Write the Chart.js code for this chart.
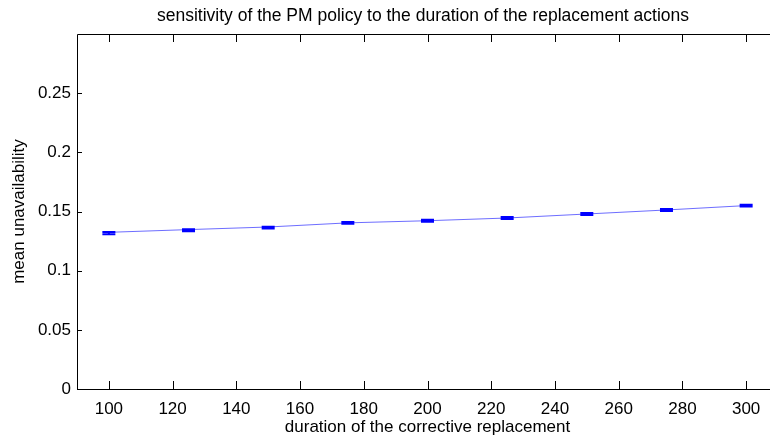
<!DOCTYPE html>
<html>
<head>
<meta charset="utf-8">
<script src="https://cdn.jsdelivr.net/npm/chart.js@4"></script>
<style>
  html, body { margin: 0; padding: 0; background: #fff; overflow: hidden; }
  canvas { display: block; }
</style>
</head>
<body>
<canvas id="chart" width="790" height="438"></canvas>
<script>
// sensitivity of PM policy chart

const durations = [100, 125, 150, 175, 200, 225, 250, 275, 300];
const unavailability = [0.1324, 0.1347, 0.1369, 0.1404, 0.1422, 0.1445, 0.1479, 0.1513, 0.1550];
const errHigh = [0.0003, 0.0003, 0.0003, 0.0008, 0.0008, 0.0008, 0.0008, 0.0008, 0.0008];
const errLow = [0.0016, 0.0014, 0.0013, 0.0008, 0.0008, 0.0008, 0.0008, 0.0008, 0.0008];
const xTicks = [100, 120, 140, 160, 180, 200, 220, 240, 260, 280, 300];
const yTicks = [0, 0.05, 0.1, 0.15, 0.2, 0.25];

const FONT = 'Liberation Sans, Arial, sans-serif';
const FONT_SIZE = 17;

// axes lines, inward ticks, error bars and title, MATLAB style
const matlabAxes = {
  id: 'matlabAxes',
  afterDatasetsDraw(chart) {
    const ctx = chart.ctx;
    const a = chart.chartArea;
    const xs = chart.scales.x, ys = chart.scales.y;

    // error bars
    ctx.save();
    ctx.strokeStyle = '#0000ff';
    ctx.lineWidth = 2;
    durations.forEach((d, i) => {
      const px = xs.getPixelForValue(d);
      const yHi = ys.getPixelForValue(unavailability[i] + errHigh[i]);
      const yLo = ys.getPixelForValue(unavailability[i] - errLow[i]);
      ctx.beginPath();
      ctx.moveTo(px, yHi); ctx.lineTo(px, yLo);
      ctx.moveTo(px - 6.5, yHi); ctx.lineTo(px + 6.5, yHi);
      ctx.moveTo(px - 6.5, yLo); ctx.lineTo(px + 6.5, yLo);
      ctx.stroke();
    });
    ctx.restore();

    ctx.save();
    ctx.strokeStyle = '#000';
    ctx.lineWidth = 1;
    ctx.beginPath();
    const l = a.left + 0.5, t = a.top + 0.5, b = a.bottom + 0.5;
    ctx.moveTo(a.right, t); ctx.lineTo(l, t); ctx.lineTo(l, b); ctx.lineTo(a.right, b);
    xTicks.forEach(v => {
      const px = Math.round(xs.getPixelForValue(v)) + 0.5;
      ctx.moveTo(px, a.bottom); ctx.lineTo(px, a.bottom - 8);
      ctx.moveTo(px, a.top); ctx.lineTo(px, a.top + 8);
    });
    yTicks.forEach(v => {
      const py = Math.round(ys.getPixelForValue(v)) + 0.5;
      ctx.moveTo(a.left, py); ctx.lineTo(a.left + 5, py);
      ctx.moveTo(a.right, py); ctx.lineTo(a.right - 5, py);
    });
    ctx.stroke();

    ctx.fillStyle = '#000';
    ctx.font = '17.5px ' + FONT;
    ctx.textAlign = 'center';
    ctx.textBaseline = 'middle';
    ctx.fillText('sensitivity of the PM policy to the duration of the replacement actions', 423, 16);
    ctx.restore();
  }
};

new Chart(document.getElementById('chart'), {
  type: 'line',
  data: {
    datasets: [{
      data: durations.map((d, i) => ({ x: d, y: unavailability[i] })),
      borderColor: 'rgba(60, 60, 255, 0.75)',
      borderWidth: 1,
      pointRadius: 0,
      fill: false,
      tension: 0
    }]
  },
  options: {
    responsive: false,
    animation: false,
    layout: { padding: { top: 34, right: 12, left: 0, bottom: 0 } },
    plugins: {
      legend: { display: false },
      tooltip: { enabled: false }
    },
    scales: {
      x: {
        type: 'linear',
        min: 90,
        max: 310,
        afterBuildTicks: s => { s.ticks = xTicks.map(v => ({ value: v })); },
        afterFit: s => { s.height = 49; },
        grid: { display: false, drawTicks: false },
        border: { display: false },
        ticks: { color: '#000', padding: 10, maxRotation: 0, font: { family: FONT, size: FONT_SIZE } },
        title: {
          display: true,
          text: 'duration of the corrective replacement',
          color: '#000',
          padding: { top: 0, bottom: 0 },
          font: { family: FONT, size: FONT_SIZE }
        }
      },
      y: {
        min: 0,
        max: 0.3,
        afterBuildTicks: s => { s.ticks = yTicks.map(v => ({ value: v })); },
        afterFit: s => { s.width = 77; },
        grid: { display: false, drawTicks: false },
        border: { display: false },
        ticks: { color: '#000', padding: 6, font: { family: FONT, size: FONT_SIZE }, callback: v => String(v) },
        title: {
          display: true,
          text: 'mean unavailability',
          color: '#000',
          padding: { top: 8.8, bottom: 0 },
          font: { family: FONT, size: FONT_SIZE }
        }
      }
    }
  },
  plugins: [matlabAxes]
});
</script>
</body>
</html>
